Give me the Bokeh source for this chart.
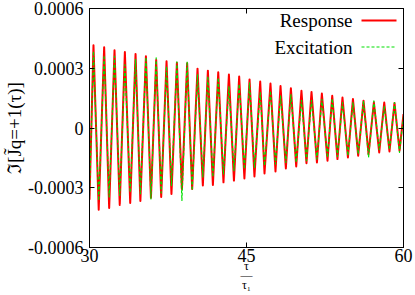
from bokeh.plotting import figure
from bokeh.models import (ColumnDataSource, Label, Arrow, LinearAxis, FixedTicker,
                          CustomJSTickFormatter, Range1d)
from bokeh.embed import file_html
from bokeh.resources import INLINE

# ---- data ----
x_start, x_end = 30.0, 60.0
peak_x = [30.38, 31.40, 32.39, 33.38, 34.40, 35.39, 36.37, 37.36, 38.35, 39.33,
          40.32, 41.31, 42.30, 43.32, 44.30, 45.29, 46.31, 47.29, 48.25, 49.24,
          50.25, 51.21, 52.20, 53.19, 54.17, 55.17, 56.18, 57.17, 58.16, 59.14]
trough_x = [30.88, 31.88, 32.89, 33.89, 34.86, 35.87, 36.85, 37.83, 38.83, 39.81,
            40.83, 41.79, 42.80, 43.80, 44.80, 45.76, 46.72, 47.77, 48.76, 49.75,
            50.73, 51.73, 52.74, 53.69, 54.69, 55.67, 56.66, 57.68, 58.66, 59.62]

resp_start, resp_end = -0.00036, 0.00007
resp_peak = [0.000415, 0.000405, 0.000390, 0.000382, 0.000372, 0.000360, 0.000342, 0.000335, 0.000328, 0.000325,
             0.000298, 0.000288, 0.000280, 0.000268, 0.000258, 0.000244, 0.000233, 0.000223, 0.000211, 0.000199,
             0.000187, 0.000181, 0.000173, 0.000162, 0.000153, 0.000145, 0.000137, 0.000129, 0.000128, 0.000126]
resp_trough = [-0.000410, -0.000402, -0.000386, -0.000376, -0.000366, -0.000350, -0.000346, -0.000331, -0.000306, -0.000306,
               -0.000289, -0.000286, -0.000273, -0.000264, -0.000253, -0.000243, -0.000228, -0.000218, -0.000203, -0.000193,
               -0.000177, -0.000173, -0.000164, -0.000156, -0.000148, -0.000139, -0.000131, -0.000123, -0.000118, -0.000114]

exc_start, exc_end = -0.00034, 0.00006
exc_peak = [0.000385, 0.000365, 0.000360, 0.000318, 0.000345, 0.000355, 0.000352, 0.000310, 0.000332, 0.000335,
            0.000268, 0.000260, 0.000252, 0.000210, 0.000220, 0.000227, 0.000178, 0.000186, 0.000161, 0.000169,
            0.000139, 0.000139, 0.000144, 0.000148, 0.000128, 0.000128, 0.000136, 0.000136, 0.000111, 0.000128]
exc_trough = [-0.000364, -0.000346, -0.000339, -0.000323, -0.000330, -0.000356, -0.000326, -0.000289, -0.000364, -0.000314,
              -0.000246, -0.000246, -0.000231, -0.000214, -0.000206, -0.000198, -0.000189, -0.000181, -0.000173, -0.000173,
              -0.000164, -0.000156, -0.000148, -0.000143, -0.000139, -0.000131, -0.000148, -0.000109, -0.000109, -0.000123]

y_ticks = [-0.0006, -0.0003, 0.0, 0.0003, 0.0006]
x_ticks = [30, 45, 60]
series_names = ["Response", "Excitation"]
y_title = "ℑ[J̃q=+1(τ)]"
x_title = "τ\n—\nτ₁"


def zigzag(start, peaks, troughs, end):
    xs, ys = [x_start], [start]
    for px, pv, tx, tv in zip(peak_x, peaks, trough_x, troughs):
        xs += [px, tx]
        ys += [pv, tv]
    xs.append(x_end)
    ys.append(end)
    return ColumnDataSource(data=dict(x=xs, y=ys))


resp_src = zigzag(resp_start, resp_peak, resp_trough, resp_end)
exc_src = zigzag(exc_start, exc_peak, exc_trough, exc_end)

FONT = "Liberation Serif"
RED = "#ff0000"
GREEN = "#00e000"

p = figure(width=415, height=295,
           x_range=Range1d(30, 60), y_range=Range1d(-0.0006, 0.0006),
           output_backend="svg", toolbar_location=None,
           min_border_left=89, min_border_right=12, min_border_top=8, min_border_bottom=47)
p.background_fill_color = "white"
p.border_fill_color = "white"
p.grid.visible = False
p.outline_line_color = "black"
p.outline_line_width = 1

p.line("x", "y", source=resp_src, line_color=RED, line_width=2, line_join="round")
p.line("x", "y", source=exc_src, line_color=GREEN, line_width=1.2, line_dash="3 2", line_join="round")

fmt = CustomJSTickFormatter(code="return tick == 0 ? '0' : tick.toFixed(4);")

for ax in p.xaxis:
    ax.ticker = FixedTicker(ticks=x_ticks)
    ax.major_label_standoff = 1
    ax.axis_label = x_title
    ax.axis_label_text_font_size = "12px"
    ax.axis_label_text_line_height = 0.7
    ax.axis_label_standoff = -6
for ax in p.yaxis:
    ax.ticker = FixedTicker(ticks=y_ticks)
    ax.formatter = fmt
    ax.major_label_standoff = 6
    ax.axis_label = y_title
    ax.axis_label_text_font_size = "19px"
    ax.axis_label_standoff = 0

for ax in list(p.xaxis) + list(p.yaxis):
    ax.major_tick_in = 5
    ax.major_tick_out = 0
    ax.minor_tick_in = 0
    ax.minor_tick_out = 0
    ax.major_label_text_font = FONT
    ax.major_label_text_font_size = "18px"
    ax.major_label_text_color = "black"
    ax.axis_label_text_font = FONT
    ax.axis_label_text_font_style = "normal"
    ax.axis_label_text_color = "black"
    ax.axis_line_color = "black"
    ax.major_tick_line_color = "black"

top_ax = LinearAxis(ticker=FixedTicker(ticks=x_ticks), major_label_text_font_size="0px",
                    major_tick_in=5, major_tick_out=0, minor_tick_in=0, minor_tick_out=0,
                    major_label_standoff=0, axis_line_color="black")
right_ax = LinearAxis(ticker=FixedTicker(ticks=y_ticks), major_label_text_font_size="0px",
                      major_tick_in=5, major_tick_out=0, minor_tick_in=0, minor_tick_out=0,
                      major_label_standoff=0, axis_line_color="black")
p.add_layout(top_ax, "above")
p.add_layout(right_ax, "right")

# ---- legend (gnuplot style: text left, sample right) ----
for i, (name, col, dash, w) in enumerate([(series_names[0], RED, "solid", 2),
                                          (series_names[1], GREEN, "3 2", 1.2)]):
    sy = 227 - i * 26.5
    p.add_layout(Label(x=263, y=sy, x_units="screen", y_units="screen", text=name,
                       text_align="right", text_baseline="middle",
                       text_font=FONT, text_font_size="19px", text_color="black"))
    p.add_layout(Arrow(x_start=272, y_start=sy, x_end=307, y_end=sy,
                       start_units="screen", end_units="screen", start=None, end=None,
                       line_color=col, line_width=w, line_dash=dash))

open("out.html", "w").write(file_html(p, INLINE))
